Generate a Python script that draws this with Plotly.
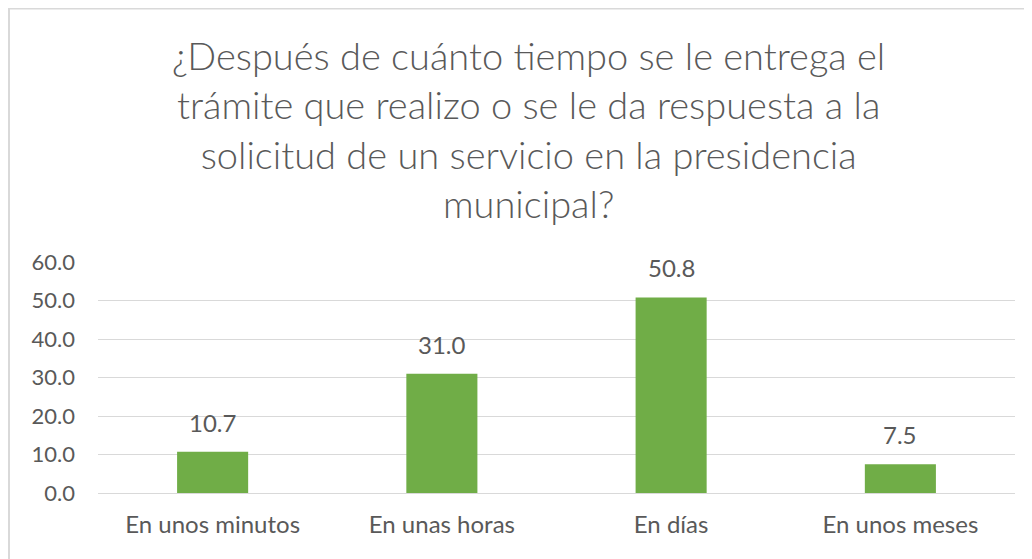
import plotly.graph_objects as go

categories = ["En unos minutos", "En unas horas", "En días", "En unos meses"]
values = [10.7, 31.0, 50.8, 7.5]
tick_vals = [0, 10, 20, 30, 40, 50, 60]
tick_text = ["0.0", "10.0", "20.0", "30.0", "40.0", "50.0", "60.0"]
title_lines = [
    "¿Después de cuánto tiempo se le entrega el",
    "trámite que realizo o se le da respuesta a la",
    "solicitud de un servicio en la presidencia",
    "municipal?",
]

FONT = "Lato"
GRAY = "#595959"

fig = go.Figure()
fig.add_trace(go.Bar(
    x=categories,
    y=values,
    marker=dict(color="#70AD47", line=dict(width=0)),
    cliponaxis=False,
))

# page body has an 8px margin; figure coordinates are page - 8
W, H = 1024, 551
L, R, T, B = 90, 17, 254, 66
pw, ph = W - L - R, H - T - B

annotations = [
    dict(
        x=c, y=v, xref="x", yref="y",
        text=f"{v:.1f}", showarrow=False,
        yanchor="bottom", yshift=13,
        font=dict(family=FONT, size=24, color=GRAY),
    )
    for c, v in zip(categories, values)
]
annotations.append(dict(
    x=(520 - L) / pw, xref="paper",
    y=1 + (T - 121) / ph, yref="paper",
    xanchor="center", yanchor="middle",
    text="<br>".join(title_lines), showarrow=False,
    font=dict(family=FONT, size=38, color=GRAY, weight=300),
))

fig.update_layout(
    width=W, height=H,
    margin=dict(l=L, r=R, t=T, b=B, autoexpand=False),
    paper_bgcolor="white",
    plot_bgcolor="white",
    showlegend=False,
    bargap=0.69,
    font=dict(family=FONT, color=GRAY),
    xaxis=dict(
        showgrid=False, showline=False, zeroline=False, automargin=False,
        ticks="", tickfont=dict(family=FONT, size=24, color=GRAY),
        ticklabelstandoff=15,
    ),
    yaxis=dict(
        range=[0, 60], automargin=False,
        tickvals=tick_vals, ticktext=tick_text,
        showgrid=True, gridcolor="#d9d9d9", gridwidth=1,
        zeroline=True, zerolinecolor="#d9d9d9", zerolinewidth=1,
        showline=False, ticks="",
        tickfont=dict(family=FONT, size=22, color=GRAY),
        ticklabelstandoff=22,
    ),
    annotations=annotations,
    shapes=[dict(
        type="rect", xref="paper", yref="paper",
        x0=(1 - L) / pw, x1=(W + 20 - L) / pw,
        y0=-(B + 20) / ph, y1=1 + (T - 0.5) / ph,
        line=dict(color="#d9d9d9", width=2),
        fillcolor="rgba(0,0,0,0)", layer="below",
    )],
)

fig.write_html("out.html")
